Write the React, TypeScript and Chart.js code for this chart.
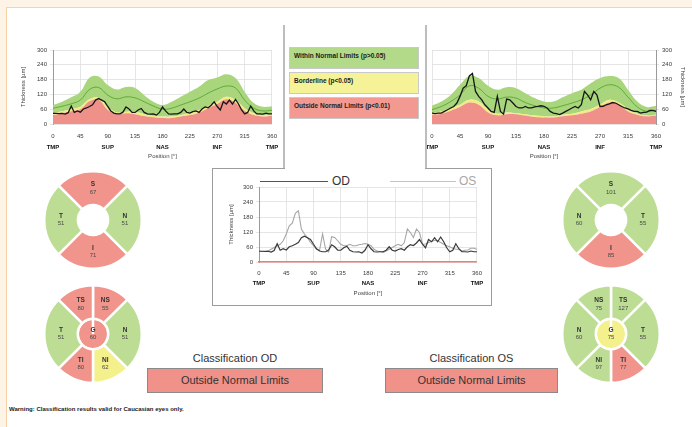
import React, { useEffect, useRef } from 'react';
import { Chart, registerables } from 'chart.js';

Chart.register(...registerables);

const FONT = '"Liberation Sans", Arial, Helvetica, sans-serif';

// ---------------- data ----------------
const NORM_ANGLES = [0, 15, 30, 45, 60, 75, 90, 105, 120, 135, 150, 165, 180, 195, 210, 225, 240, 255, 270, 285, 300, 315, 330, 345, 360];

const OD_NORM_95 = [77, 90, 108, 131, 188, 193, 158, 140, 150, 146, 117, 90, 77, 90, 110, 131, 151, 178, 189, 202, 186, 131, 85, 70, 72];
const OD_NORM_MEAN = [64, 72, 82, 97, 140, 148, 117, 102, 110, 106, 90, 73, 60, 64, 77, 90, 105, 125, 142, 154, 146, 97, 64, 53, 56];
const OD_NORM_05 = [44, 52, 60, 70, 100, 106, 69, 47, 50, 50, 40, 32, 30, 30, 36, 46, 57, 73, 90, 110, 97, 64, 44, 36, 40];
const OD_NORM_01 = [36, 44, 52, 60, 92, 98, 57, 40, 44, 40, 32, 27, 24, 24, 30, 36, 46, 64, 81, 100, 86, 54, 36, 30, 33];

const OS_NORM_95 = [74, 91, 118, 159, 195, 186, 155, 139, 149, 145, 125, 105, 91, 91, 108, 125, 139, 165, 186, 195, 186, 139, 91, 69, 74];
const OS_NORM_MEAN = [58, 71, 91, 118, 155, 145, 112, 101, 109, 105, 87, 74, 65, 65, 74, 85, 98, 118, 145, 159, 149, 109, 69, 51, 55];
const OS_NORM_05 = [44, 51, 65, 78, 98, 91, 58, 42, 47, 44, 40, 34, 31, 31, 38, 42, 51, 61, 78, 98, 87, 61, 42, 34, 38];
const OS_NORM_01 = [38, 42, 54, 69, 87, 78, 47, 35, 40, 40, 34, 28, 26, 26, 31, 35, 42, 51, 69, 87, 78, 51, 38, 31, 34];

const THICK_ANGLES = [0, 5, 10, 15, 20, 25, 30, 35, 40, 45, 50, 55, 60, 65, 70, 75, 80, 85, 90, 95, 100, 105, 110, 115, 120, 125, 130, 135, 140, 145, 150, 155, 160, 165, 170, 175, 180, 185, 190, 195, 200, 205, 210, 215, 220, 225, 230, 235, 240, 245, 250, 255, 260, 265, 270, 275, 280, 285, 290, 295, 300, 305, 310, 315, 320, 325, 330, 335, 340, 345, 350, 355, 360];

const OD_THICKNESS = [43, 43, 42, 43, 40, 46, 73, 47, 53, 48,
  61, 65, 71, 78, 97, 103, 97, 90, 71, 53,
  44, 41, 41, 48, 69, 61, 47, 47, 57, 63,
  47, 41, 40, 41, 36, 47, 69, 53, 41, 40,
  41, 41, 47, 61, 47, 44, 50, 53, 47, 61,
  69, 66, 76, 90, 71, 57, 90, 81, 97, 81,
  100, 81, 57, 41, 47, 73, 53, 41, 41, 40,
  44, 41, 41];

const OS_THICKNESS = [44, 42, 44, 44, 51, 58, 65, 71, 85, 112,
  145, 155, 195, 205, 132, 112, 98, 78, 65, 51,
  47, 112, 51, 40, 101, 98, 85, 71, 65, 65,
  71, 65, 65, 69, 71, 74, 71, 65, 51, 44,
  42, 38, 44, 51, 58, 65, 71, 65, 78, 132,
  118, 98, 132, 118, 71, 72, 78, 82, 87, 85,
  78, 71, 65, 61, 55, 51, 51, 44, 47, 48,
  55, 55, 51];

const Y_TICKS = [0, 60, 120, 180, 240, 300];
const X_TICKS = [0, 45, 90, 135, 180, 225, 270, 315, 360];
const REGION_TICKS = [0, 90, 180, 270, 360];
const REGION_LABELS = ['TMP', 'SUP', 'NAS', 'INF', 'TMP'];

const SECTOR4_SPAN = [90, 90, 90, 90];
const SECTOR6_SPAN = [45, 90, 45, 45, 90, 45];

const OD4_NAMES = ['S', 'N', 'I', 'T'];
const OD4_VALUES = [67, 51, 71, 51];
const OD4_CLASS = ['out', 'in', 'out', 'in'];

const OD6_NAMES = ['NS', 'N', 'NI', 'TI', 'T', 'TS'];
const OD6_VALUES = [55, 51, 62, 80, 51, 80];
const OD6_CLASS = ['out', 'in', 'border', 'out', 'in', 'out'];
const OD_G = { name: 'G', value: 60, cls: 'out' };

const OS4_NAMES = ['S', 'T', 'I', 'N'];
const OS4_VALUES = [101, 55, 85, 60];
const OS4_CLASS = ['in', 'in', 'out', 'in'];

const OS6_NAMES = ['TS', 'T', 'TI', 'NI', 'N', 'NS'];
const OS6_VALUES = [127, 55, 77, 97, 60, 75];
const OS6_CLASS = ['in', 'in', 'out', 'in', 'in', 'in'];
const OS_G = { name: 'G', value: 75, cls: 'border' };

const LEGEND_ITEMS = [
  { text: 'Within Normal Limits (p>0.05)', color: '#b3da88' },
  { text: 'Borderline (p<0.05)', color: '#f6f297' },
  { text: 'Outside Normal Limits (p<0.01)', color: '#f29a92' },
];

// ---------------- styles ----------------
const BAND_GREEN = '#a9d67c';
const BAND_YELLOW = '#f1ec85';
const BAND_RED = '#f09189';
const CLASS_COLORS: any = { in: '#bcdd93', border: '#f4f18c', out: '#f0948c' };
const GRID = '#dedede';
const TICK_COLOR = '#3a3a3a';

const pts = (xs: number[], ys: number[]) => xs.map((x, i) => ({ x, y: ys[i] }));

function xScales(numPad: number, xH: number, regionPad: number, x2H: number, borderColor?: string) {
  return {
    x: {
      type: 'linear', min: 0, max: 360, weight: 0,
      afterBuildTicks: (s: any) => { s.ticks = X_TICKS.map((v) => ({ value: v })); },
      ticks: { font: { family: FONT, size: 6 }, color: TICK_COLOR, padding: numPad, maxRotation: 0, autoSkip: false },
      grid: { color: GRID, lineWidth: 0.8, drawTicks: false },
      border: borderColor ? { display: true, color: borderColor, width: 1.6 } : { display: false },
      afterFit: (s: any) => { s.height = xH; },
    },
    x2: {
      type: 'linear', position: 'bottom', min: 0, max: 360, weight: 1,
      afterBuildTicks: (s: any) => { s.ticks = REGION_TICKS.map((v) => ({ value: v })); },
      ticks: {
        font: { family: FONT, size: 6, weight: 'bold' }, color: '#111', padding: regionPad, maxRotation: 0, autoSkip: false,
        callback: (_v: any, i: number) => REGION_LABELS[i],
      },
      grid: { display: false, drawTicks: false },
      border: { display: false },
      title: { display: true, text: 'Position [°]', font: { family: FONT, size: 6 }, color: '#444', padding: { top: 0, bottom: 0 } },
      afterFit: (s: any) => { s.height = x2H; },
    },
  };
}

function yScale(position: string, width: number, titlePad: number) {
  return {
    type: 'linear', position, min: 0, max: 300,
    afterBuildTicks: (s: any) => { s.ticks = Y_TICKS.map((v) => ({ value: v })); },
    ticks: { font: { family: FONT, size: 6 }, color: TICK_COLOR, padding: 3 },
    grid: { color: GRID, lineWidth: 0.8, drawTicks: true, tickLength: 3 },
    border: { display: true, color: '#9a9a9a', width: 1 },
    title: { display: true, text: 'Thickness [µm]', font: { family: FONT, size: 6 }, color: '#444', padding: { top: titlePad, bottom: 0 } },
    afterFit: (s: any) => { s.width = width; },
  };
}

function profileConfig(p: any) {
  const bandLine = { borderWidth: 0, borderColor: 'rgba(0,0,0,0)', pointRadius: 0, tension: 0.4 };
  return {
    type: 'line',
    data: {
      datasets: [
        { data: pts(THICK_ANGLES, p.thick), borderColor: '#161616', borderWidth: 1.3, pointRadius: 0, fill: false, tension: 0 },
        { data: pts(NORM_ANGLES, p.mean), borderColor: '#55a532', borderWidth: 0.9, pointRadius: 0, fill: false, tension: 0.4 },
        { ...bandLine, data: pts(NORM_ANGLES, p.n01), backgroundColor: BAND_RED, fill: 'origin' },
        { ...bandLine, data: pts(NORM_ANGLES, p.n05), backgroundColor: BAND_YELLOW, fill: 2 },
        { ...bandLine, data: pts(NORM_ANGLES, p.n95), backgroundColor: BAND_GREEN, fill: 3 },
      ],
    },
    options: {
      responsive: false, animation: false, events: [],
      layout: { padding: p.padding },
      plugins: { legend: { display: false }, tooltip: { enabled: false } },
      scales: { ...xScales(9, 17, 3, 19), y: yScale(p.side, p.yWidth, p.titlePad) },
    },
  };
}

function compareConfig() {
  return {
    type: 'line',
    data: {
      datasets: [
        { data: pts(THICK_ANGLES, OD_THICKNESS), borderColor: '#3a3a3a', borderWidth: 1.2, pointRadius: 0, fill: false, tension: 0 },
        { data: pts(THICK_ANGLES, OS_THICKNESS), borderColor: '#a6a6a6', borderWidth: 1.1, pointRadius: 0, fill: false, tension: 0 },
      ],
    },
    options: {
      responsive: false, animation: false, events: [],
      layout: { padding: { top: 12, right: 8, left: 0, bottom: 0 } },
      plugins: { legend: { display: false }, tooltip: { enabled: false } },
      scales: { ...xScales(8, 16, 2, 19, '#ef7d76'), y: yScale('left', 37, 6) },
    },
  };
}

const sectorLabelPlugin = {
  id: 'sectorLabels',
  afterDatasetsDraw(chart: any, _args: any, opts: any) {
    const ctx = chart.ctx;
    ctx.save();
    ctx.textAlign = 'center';
    ctx.textBaseline = 'middle';
    const draw = (x: number, y: number, name: string, value: number) => {
      ctx.fillStyle = '#333';
      ctx.font = `bold 6.5px ${FONT}`;
      ctx.fillText(name, x, y - 3.8);
      ctx.fillStyle = '#4a4a4a';
      ctx.font = `6px ${FONT}`;
      ctx.fillText(String(value), x, y + 3.8);
    };
    const meta0 = chart.getDatasetMeta(0);
    meta0.data.forEach((arc: any, i: number) => {
      const pos = arc.tooltipPosition();
      draw(pos.x, pos.y, opts.names[i], opts.values[i]);
    });
    if (opts.gName) {
      const g = chart.getDatasetMeta(1).data[0];
      draw(g.x, g.y, opts.gName, opts.gValue);
    }
    ctx.restore();
  },
};

function ring4Config(names: string[], values: number[], classes: string[]) {
  return {
    type: 'doughnut',
    data: {
      labels: names,
      datasets: [{ data: SECTOR4_SPAN, backgroundColor: classes.map((c) => CLASS_COLORS[c]), borderColor: '#fff', borderWidth: 2.5, hoverBorderWidth: 2.5 }],
    },
    options: {
      responsive: false, animation: false, events: [], cutout: '31%', rotation: -45,
      plugins: { legend: { display: false }, tooltip: { enabled: false }, sectorLabels: { names, values } },
    },
    plugins: [sectorLabelPlugin],
  };
}

function ring6Config(names: string[], values: number[], classes: string[], g: any) {
  return {
    type: 'doughnut',
    data: {
      labels: names,
      datasets: [
        { data: SECTOR6_SPAN, weight: 33, backgroundColor: classes.map((c) => CLASS_COLORS[c]), borderColor: '#fff', borderWidth: 2.5, hoverBorderWidth: 2.5 },
        { data: [360], weight: 15, backgroundColor: [CLASS_COLORS[g.cls]], borderColor: '#fff', borderWidth: 2.5, hoverBorderWidth: 2.5 },
      ],
    },
    options: {
      responsive: false, animation: false, events: [], cutout: 0, rotation: 0,
      plugins: { legend: { display: false }, tooltip: { enabled: false }, sectorLabels: { names, values, gName: g.name, gValue: g.value } },
    },
    plugins: [sectorLabelPlugin],
  };
}

function ChartBox({ make, left, top, width, height }: any) {
  const ref = useRef<HTMLCanvasElement | null>(null);
  useEffect(() => {
    const chart = new Chart(ref.current as any, make());
    return () => chart.destroy();
  }, []);
  return (
    <canvas ref={ref} width={width} height={height}
      style={{ position: 'absolute', left, top, width, height, display: 'block' }} />
  );
}

const abs = (o: any) => ({ position: 'absolute', ...o });

export default function App() {
  const lineGray = '#bdbdbd';
  return (
    <div style={{ position: 'fixed', left: 0, top: 0, width: 692, height: 427, background: '#fdf3e6', overflow: 'hidden', fontFamily: FONT }}>
      <div style={abs({ left: 6, top: 7, width: 700, height: 430, background: '#fff', border: '1.5px solid #f6d2a6', boxSizing: 'border-box' })} />

      {/* top profile charts */}
      <ChartBox left={14} top={35} width={272} height={125}
        make={() => profileConfig({ thick: OD_THICKNESS, mean: OD_NORM_MEAN, n95: OD_NORM_95, n05: OD_NORM_05, n01: OD_NORM_01, side: 'left', yWidth: 39, titlePad: 6, padding: { top: 15, right: 10, left: 0, bottom: 0 } })} />
      <ChartBox left={420} top={35} width={270} height={125}
        make={() => profileConfig({ thick: OS_THICKNESS, mean: OS_NORM_MEAN, n95: OS_NORM_95, n05: OS_NORM_05, n01: OS_NORM_01, side: 'right', yWidth: 34, titlePad: 4, padding: { top: 15, right: 0, left: 12, bottom: 0 } })} />

      {/* frame lines */}
      <div style={abs({ left: 283, top: 25, width: 1.5, height: 143, background: lineGray })} />
      <div style={abs({ left: 425, top: 25, width: 1.5, height: 143, background: lineGray })} />
      <div style={abs({ left: 212, top: 168, width: 280, height: 138, borderLeft: '1px solid #9c9c9c', borderRight: '1px solid #9c9c9c', borderBottom: '1px solid #9c9c9c', boxSizing: 'border-box' })} />
      <div style={abs({ left: 212, top: 167.5, width: 73, height: 1.2, background: '#9c9c9c' })} />
      <div style={abs({ left: 425, top: 167.5, width: 67, height: 1.2, background: '#9c9c9c' })} />

      {/* legend boxes */}
      {LEGEND_ITEMS.map((it, i) => (
        <div key={i} style={abs({ left: 289, top: 47 + i * 25, width: 130, height: 22, background: it.color, border: '1px solid #c9c9c9', boxSizing: 'border-box', fontSize: 6.5, fontWeight: 'bold', color: '#222', padding: '4px 0 0 4px', whiteSpace: 'nowrap' })}>
          {it.text}
        </div>
      ))}

      {/* center comparison chart */}
      <div style={abs({ left: 260, top: 180.5, width: 68, height: 1.5, background: '#555' })} />
      <div style={abs({ left: 332, top: 174, fontSize: 12, lineHeight: '14px', color: '#333' })}>OD</div>
      <div style={abs({ left: 390, top: 180.5, width: 66, height: 1.2, background: '#c4c4c4' })} />
      <div style={abs({ left: 459, top: 174, fontSize: 12, lineHeight: '14px', color: '#a8a8a8' })}>OS</div>
      <ChartBox left={222} top={175} width={268} height={122} make={compareConfig} />

      {/* sector charts */}
      <ChartBox left={43} top={170} width={100} height={100} make={() => ring4Config(OD4_NAMES, OD4_VALUES, OD4_CLASS)} />
      <ChartBox left={43} top={284} width={100} height={100} make={() => ring6Config(OD6_NAMES, OD6_VALUES, OD6_CLASS, OD_G)} />
      <ChartBox left={561} top={170} width={100} height={100} make={() => ring4Config(OS4_NAMES, OS4_VALUES, OS4_CLASS)} />
      <ChartBox left={561} top={284} width={100} height={100} make={() => ring6Config(OS6_NAMES, OS6_VALUES, OS6_CLASS, OS_G)} />

      {/* classification */}
      <div style={abs({ left: 147, top: 352, width: 176, textAlign: 'center', fontSize: 11, color: '#333' })}>Classification OD</div>
      <div style={abs({ left: 147, top: 368, width: 176, height: 25, background: '#f0928a', border: '1px solid #8a8a8a', boxSizing: 'border-box', textAlign: 'center', fontSize: 11, lineHeight: '23px', color: '#333' })}>Outside Normal Limits</div>
      <div style={abs({ left: 385, top: 352, width: 173, textAlign: 'center', fontSize: 11, color: '#333' })}>Classification OS</div>
      <div style={abs({ left: 385, top: 368, width: 173, height: 25, background: '#f0928a', border: '1px solid #8a8a8a', boxSizing: 'border-box', textAlign: 'center', fontSize: 11, lineHeight: '23px', color: '#333' })}>Outside Normal Limits</div>

      <div style={abs({ left: 9, top: 406, fontSize: 6, fontWeight: 'bold', color: '#222', whiteSpace: 'nowrap' })}>
        Warning: Classification results valid for Caucasian eyes only.
      </div>
    </div>
  );
}
